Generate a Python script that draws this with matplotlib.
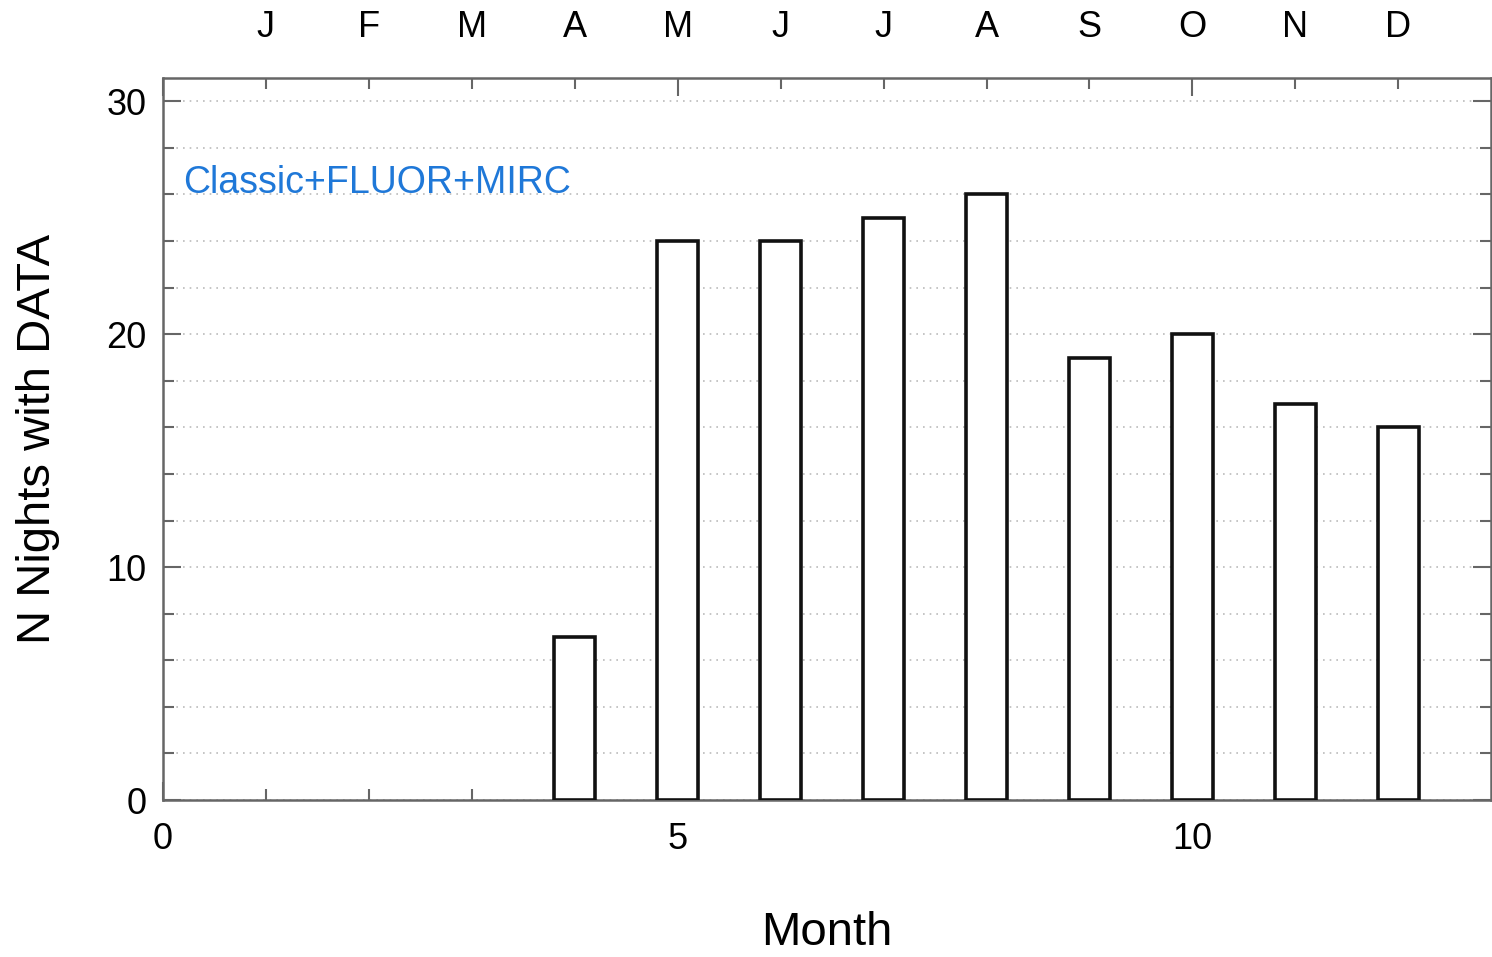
import matplotlib.pyplot as plt
from matplotlib.ticker import MultipleLocator

plt.rcParams['font.family'] = ['Liberation Sans', 'DejaVu Sans']

months = [4, 5, 6, 7, 8, 9, 10, 11, 12]
nights = [7, 24, 24, 25, 26, 19, 20, 17, 16]
month_letters = ['J', 'F', 'M', 'A', 'M', 'J', 'J', 'A', 'S', 'O', 'N', 'D']
month_pos = list(range(1, 13))

fig = plt.figure(figsize=(14.92, 9.57), dpi=100)
ax = fig.add_axes([0.1092, 0.164, 0.8901, 0.7545])

ax.bar(months, nights, width=0.4, facecolor='white', edgecolor='#111111',
       linewidth=2.6, zorder=3)

ax.set_xlim(0, 12.9)
ax.set_ylim(0, 31)
ax.xaxis.set_major_locator(MultipleLocator(5))
ax.xaxis.set_minor_locator(MultipleLocator(1))
ax.yaxis.set_major_locator(MultipleLocator(10))
ax.yaxis.set_minor_locator(MultipleLocator(2))

ax.grid(which='both', axis='y', linestyle=(0, (1, 3)), color='#bbbbbb',
        linewidth=1.2, zorder=0)

for s in ax.spines.values():
    s.set_color('#666666')
    s.set_linewidth(1.8)

ax.tick_params(which='both', direction='in', top=True, right=True,
               color='#666666', width=1.5, labelsize=26)
ax.tick_params(which='major', length=13)
ax.tick_params(which='minor', length=8)
ax.tick_params(axis='y', pad=12)
ax.tick_params(axis='x', pad=16)

top = ax.secondary_xaxis('top')
top.set_xticks(month_pos)
top.set_xticklabels(month_letters)
top.tick_params(length=0, pad=24, labelsize=26)
top.spines['top'].set_visible(False)

ax.set_xlabel('Month', fontsize=34, labelpad=39)
ax.set_ylabel('N Nights with DATA', fontsize=34, labelpad=33)

ax.text(0.2, 26.5, 'Classic+FLUOR+MIRC', color='#1f78d8', fontsize=27,
        va='center', ha='left')

fig.savefig('out.png', dpi=100, facecolor='white')
